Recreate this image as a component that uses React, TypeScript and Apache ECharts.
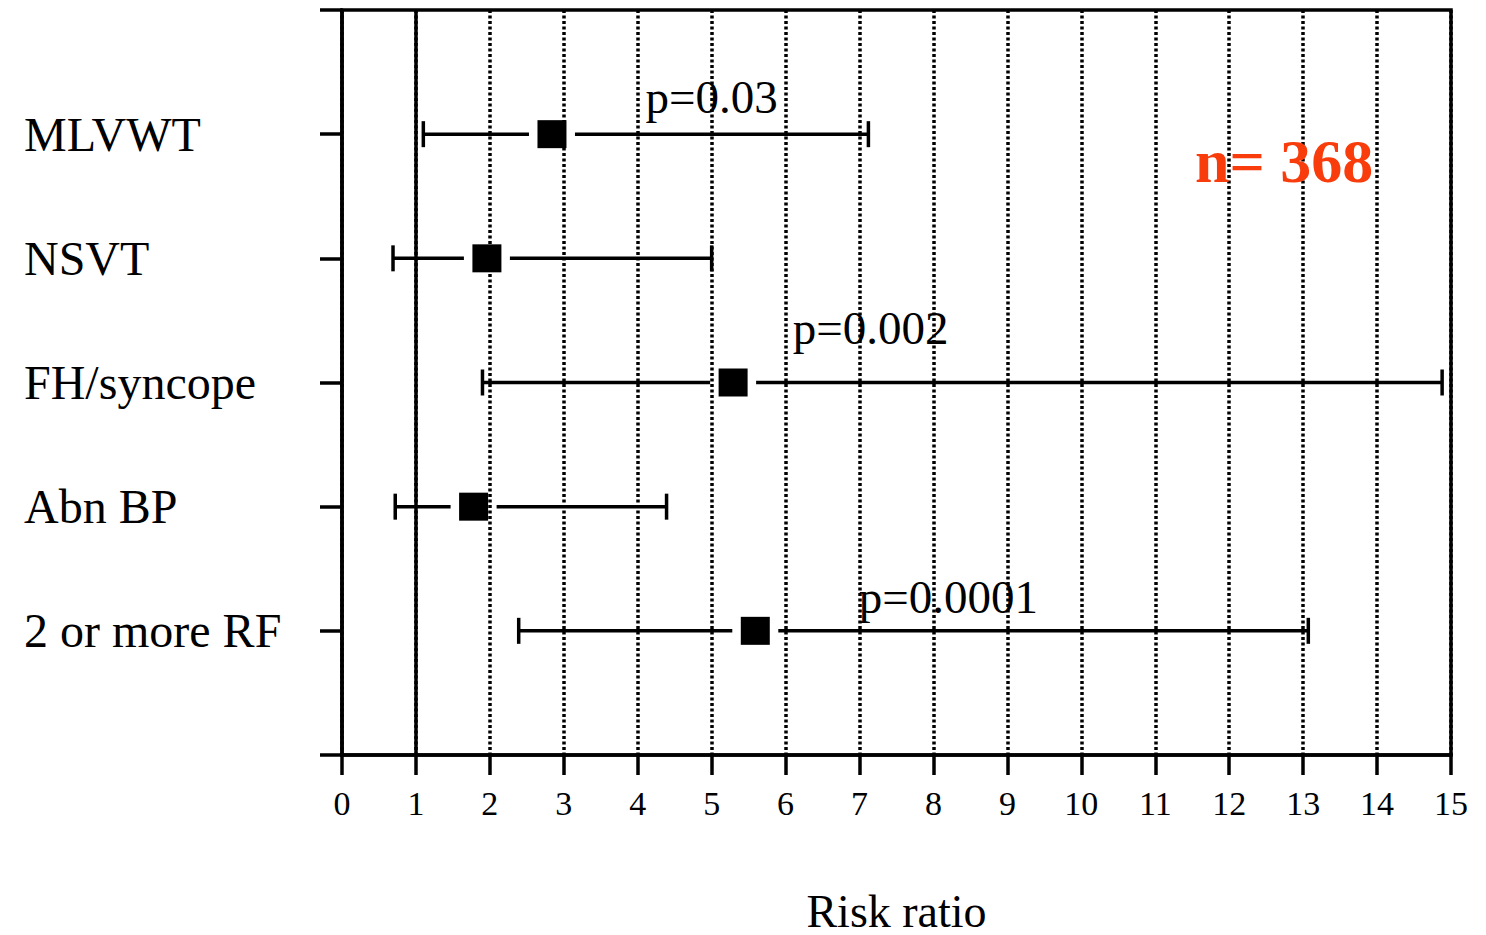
import React, { useEffect, useRef } from 'react';
import * as echarts from 'echarts';

// ---- data ----
const categories = ['MLVWT', 'NSVT', 'FH/syncope', 'Abn BP', '2 or more RF'];
const riskRatio = [2.84, 1.96, 5.29, 1.78, 5.59];
const ciLower = [1.1, 0.69, 1.9, 0.72, 2.39];
const ciUpper = [7.12, 5.0, 14.88, 4.39, 13.07];
const pValues = ['p=0.03', '', 'p=0.002', '', 'p=0.0001'];
const pLabelX = [5.0, null, 7.15, null, 8.2];
const pLabelRow = [5.3, null, 3.44, null, 1.27];
const xTickMin = 0;
const xTickMax = 15;
const xAxisTitle = 'Risk ratio';
const sampleSizeText = 'n= 368';
const referenceLine = 1;

const SERIF = '"Liberation Serif", "Times New Roman", serif';

export default function App() {
  const ref = useRef<HTMLDivElement>(null);

  useEffect(() => {
    document.body.style.margin = '0';
    if (!ref.current) return;
    const chart = echarts.init(ref.current, null, { renderer: 'svg' });
    const n = categories.length;
    const rowOf = (i: number) => n - i;

    const ciData = categories.map((_, i) => [rowOf(i), ciLower[i], riskRatio[i], ciUpper[i]]);
    const pData: any[] = [];
    pValues.forEach((p, i) => {
      if (p && pLabelX[i] != null) pData.push([pLabelX[i], pLabelRow[i], p]);
    });

    const option: any = {
      animation: false,
      backgroundColor: '#ffffff',
      textStyle: { fontFamily: SERIF, color: '#000' },
      grid: {
        left: 342,
        right: 35,
        top: 10,
        bottom: 180,
        outerBoundsMode: 'none',
        containLabel: false,
        show: true,
        borderColor: '#000',
        borderWidth: 3.5,
        backgroundColor: 'transparent',
      },
      xAxis: {
        type: 'value',
        min: xTickMin,
        max: xTickMax,
        interval: 1,
        name: xAxisTitle,
        nameLocation: 'middle',
        nameGap: 136,
        nameTextStyle: { fontFamily: SERIF, fontSize: 46, lineHeight: 40, color: '#000' },
        axisLine: { show: true, onZero: false, lineStyle: { color: '#000', width: 3.5 } },
        axisTick: { show: true, inside: false, length: 20, lineStyle: { color: '#000', width: 3.5 } },
        axisLabel: { fontFamily: SERIF, fontSize: 34, color: '#000', margin: 31 },
        splitLine: { show: true, lineStyle: { color: '#000', width: 3.5, type: [3, 2.5] } },
      },
      yAxis: {
        type: 'value',
        min: 0,
        max: n + 1,
        interval: 1,
        axisLine: { show: true, onZero: false, lineStyle: { color: '#000', width: 3.5 } },
        axisTick: { show: true, inside: false, length: 22, lineStyle: { color: '#000', width: 3.5 } },
        axisLabel: {
          fontFamily: SERIF,
          fontSize: 48,
          color: '#000',
          align: 'left',
          margin: 318,
          padding: [8, 0, 0, 0],
          formatter: (v: number) => {
            const idx = n - v;
            return idx >= 0 && idx < n ? categories[idx] : '';
          },
        },
        splitLine: { show: false },
      },
      series: [
        {
          type: 'custom',
          data: ciData,
          encode: { x: [1, 2, 3], y: 0 },
          clip: false,
          renderItem: (_params: any, api: any) => {
            const row = api.value(0);
            const pLo = api.coord([api.value(1), row]);
            const pEst = api.coord([api.value(2), row]);
            const pHi = api.coord([api.value(3), row]);
            const y = pEst[1];
            const halfW = 14.5;
            const halfH = 14;
            const gap = 8.5;
            const cap = 13;
            const st = { stroke: '#000', lineWidth: 3.5 };
            return {
              type: 'group',
              children: [
                { type: 'line', shape: { x1: pLo[0], y1: y, x2: pEst[0] - halfW - gap, y2: y }, style: st },
                { type: 'line', shape: { x1: pEst[0] + halfW + gap, y1: y, x2: pHi[0], y2: y }, style: st },
                { type: 'line', shape: { x1: pLo[0], y1: y - cap, x2: pLo[0], y2: y + cap }, style: st },
                { type: 'line', shape: { x1: pHi[0], y1: y - cap, x2: pHi[0], y2: y + cap }, style: st },
                {
                  type: 'rect',
                  shape: { x: pEst[0] - halfW, y: y - halfH, width: halfW * 2, height: halfH * 2 },
                  style: { fill: '#000' },
                },
              ],
            };
          },
          markLine: {
            silent: true,
            symbol: 'none',
            label: { show: false },
            lineStyle: { color: '#000', width: 3.5, type: 'solid', opacity: 1 },
            data: [{ xAxis: referenceLine }],
          },
          z: 3,
        },
        {
          type: 'scatter',
          data: pData,
          symbolSize: 0,
          silent: true,
          itemStyle: { opacity: 1 },
          label: {
            show: true,
            position: 'inside',
            formatter: (p: any) => p.data[2],
            fontFamily: SERIF,
            fontSize: 47,
            color: '#000',
            opacity: 1,
            textBorderWidth: 0,
          },
          z: 4,
        },
      ],
      graphic: [
        {
          type: 'text',
          x: 1195,
          y: 161,
          style: {
            text: sampleSizeText,
            font: 'bold 62px "Liberation Serif", "Times New Roman", serif',
            fill: '#f83c0c',
            verticalAlign: 'middle',
          },
          z: 10,
        },
      ],
    };

    chart.setOption(option);
    return () => chart.dispose();
  }, []);

  return <div ref={ref} style={{ width: 1486, height: 935 }} />;
}
